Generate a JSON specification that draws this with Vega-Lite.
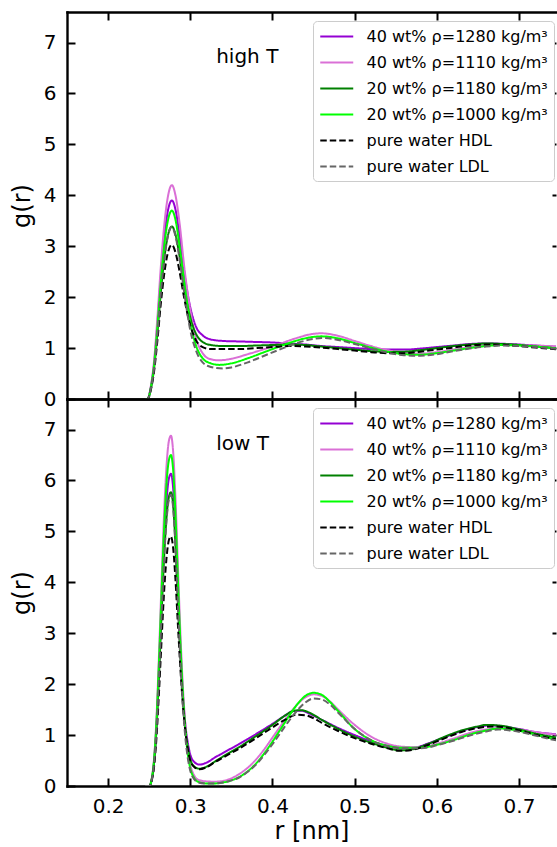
{
  "$schema": "https://vega.github.io/schema/vega-lite/v6.json",
  "padding": {"left": 10, "top": 11, "right": 0, "bottom": 0},
  "bounds": "flush",
  "spacing": 0,
  "resolve": {"legend": {"color": "independent", "strokeDash": "independent"}},
  "config": {
    "view": {"stroke": null},
    "font": "DejaVu Sans",
    "axis": {"grid": false, "domainColor": "black", "domainWidth": 2.4, "domainCap": "square", "tickColor": "black", "tickWidth": 2, "tickSize": -8, "labelColor": "black", "labelFontSize": 20, "labelFont": "DejaVu Sans", "titleFont": "DejaVu Sans", "titleFontSize": 24, "titleFontWeight": "normal", "titleColor": "black"}
  },
  "datasets": {
    "high": [
      {"series":"v1280","r":0.245,"g":0},{"series":"v1280","r":0.248,"g":0},{"series":"v1280","r":0.252,"g":0.23},{"series":"v1280","r":0.256,"g":0.70},{"series":"v1280","r":0.260,"g":1.48},{"series":"v1280","r":0.264,"g":2.38},{"series":"v1280","r":0.268,"g":3.12},{"series":"v1280","r":0.272,"g":3.63},{"series":"v1280","r":0.2776,"g":3.9},{"series":"v1280","r":0.282,"g":3.72},{"series":"v1280","r":0.287,"g":3.2},{"series":"v1280","r":0.293,"g":2.45},{"series":"v1280","r":0.300,"g":1.8},{"series":"v1280","r":0.307,"g":1.42},{"series":"v1280","r":0.315,"g":1.25},{"series":"v1280","r":0.325,"g":1.17},{"series":"v1280","r":0.34,"g":1.14},{"series":"v1280","r":0.36,"g":1.13},{"series":"v1280","r":0.38,"g":1.12},{"series":"v1280","r":0.40,"g":1.11},{"series":"v1280","r":0.42,"g":1.09},{"series":"v1280","r":0.44,"g":1.07},{"series":"v1280","r":0.46,"g":1.04},{"series":"v1280","r":0.48,"g":1.02},{"series":"v1280","r":0.50,"g":1.0},{"series":"v1280","r":0.52,"g":0.98},{"series":"v1280","r":0.54,"g":0.97},{"series":"v1280","r":0.56,"g":0.97},{"series":"v1280","r":0.58,"g":0.99},{"series":"v1280","r":0.60,"g":1.02},{"series":"v1280","r":0.62,"g":1.05},{"series":"v1280","r":0.64,"g":1.08},{"series":"v1280","r":0.66,"g":1.09},{"series":"v1280","r":0.68,"g":1.085},{"series":"v1280","r":0.70,"g":1.07},{"series":"v1280","r":0.72,"g":1.05},{"series":"v1280","r":0.75,"g":1.02},

      {"series":"v1110","r":0.245,"g":0},{"series":"v1110","r":0.248,"g":0},{"series":"v1110","r":0.252,"g":0.25},{"series":"v1110","r":0.256,"g":0.76},{"series":"v1110","r":0.260,"g":1.6},{"series":"v1110","r":0.264,"g":2.56},{"series":"v1110","r":0.268,"g":3.36},{"series":"v1110","r":0.272,"g":3.9},{"series":"v1110","r":0.2776,"g":4.2},{"series":"v1110","r":0.282,"g":4.0},{"series":"v1110","r":0.287,"g":3.45},{"series":"v1110","r":0.293,"g":2.55},{"series":"v1110","r":0.300,"g":1.75},{"series":"v1110","r":0.307,"g":1.2},{"series":"v1110","r":0.315,"g":0.9},{"series":"v1110","r":0.325,"g":0.78},{"series":"v1110","r":0.335,"g":0.76},{"series":"v1110","r":0.35,"g":0.79},{"series":"v1110","r":0.37,"g":0.88},{"series":"v1110","r":0.39,"g":0.98},{"series":"v1110","r":0.41,"g":1.09},{"series":"v1110","r":0.43,"g":1.2},{"series":"v1110","r":0.45,"g":1.28},{"series":"v1110","r":0.46,"g":1.29},{"series":"v1110","r":0.48,"g":1.24},{"series":"v1110","r":0.50,"g":1.14},{"series":"v1110","r":0.52,"g":1.04},{"series":"v1110","r":0.54,"g":0.96},{"series":"v1110","r":0.56,"g":0.91},{"series":"v1110","r":0.58,"g":0.89},{"series":"v1110","r":0.60,"g":0.92},{"series":"v1110","r":0.62,"g":0.97},{"series":"v1110","r":0.64,"g":1.02},{"series":"v1110","r":0.66,"g":1.06},{"series":"v1110","r":0.68,"g":1.07},{"series":"v1110","r":0.70,"g":1.06},{"series":"v1110","r":0.72,"g":1.05},{"series":"v1110","r":0.75,"g":1.03},

      {"series":"g1180","r":0.245,"g":0},{"series":"g1180","r":0.248,"g":0},{"series":"g1180","r":0.252,"g":0.2},{"series":"g1180","r":0.256,"g":0.61},{"series":"g1180","r":0.260,"g":1.29},{"series":"g1180","r":0.264,"g":2.07},{"series":"g1180","r":0.268,"g":2.71},{"series":"g1180","r":0.272,"g":3.15},{"series":"g1180","r":0.2776,"g":3.39},{"series":"g1180","r":0.282,"g":3.23},{"series":"g1180","r":0.287,"g":2.8},{"series":"g1180","r":0.293,"g":2.15},{"series":"g1180","r":0.300,"g":1.6},{"series":"g1180","r":0.307,"g":1.28},{"series":"g1180","r":0.315,"g":1.12},{"series":"g1180","r":0.325,"g":1.06},{"series":"g1180","r":0.34,"g":1.04},{"series":"g1180","r":0.36,"g":1.04},{"series":"g1180","r":0.38,"g":1.05},{"series":"g1180","r":0.40,"g":1.06},{"series":"g1180","r":0.42,"g":1.07},{"series":"g1180","r":0.44,"g":1.06},{"series":"g1180","r":0.46,"g":1.03},{"series":"g1180","r":0.48,"g":1.0},{"series":"g1180","r":0.50,"g":0.97},{"series":"g1180","r":0.52,"g":0.94},{"series":"g1180","r":0.54,"g":0.925},{"series":"g1180","r":0.56,"g":0.93},{"series":"g1180","r":0.58,"g":0.96},{"series":"g1180","r":0.60,"g":1.0},{"series":"g1180","r":0.62,"g":1.04},{"series":"g1180","r":0.64,"g":1.07},{"series":"g1180","r":0.66,"g":1.09},{"series":"g1180","r":0.68,"g":1.08},{"series":"g1180","r":0.70,"g":1.06},{"series":"g1180","r":0.72,"g":1.03},{"series":"g1180","r":0.75,"g":0.99},

      {"series":"g1000","r":0.245,"g":0},{"series":"g1000","r":0.248,"g":0},{"series":"g1000","r":0.252,"g":0.22},{"series":"g1000","r":0.256,"g":0.67},{"series":"g1000","r":0.260,"g":1.41},{"series":"g1000","r":0.264,"g":2.26},{"series":"g1000","r":0.268,"g":2.96},{"series":"g1000","r":0.272,"g":3.44},{"series":"g1000","r":0.2776,"g":3.7},{"series":"g1000","r":0.282,"g":3.52},{"series":"g1000","r":0.287,"g":3.0},{"series":"g1000","r":0.293,"g":2.25},{"series":"g1000","r":0.300,"g":1.5},{"series":"g1000","r":0.307,"g":1.05},{"series":"g1000","r":0.315,"g":0.8},{"series":"g1000","r":0.325,"g":0.7},{"series":"g1000","r":0.335,"g":0.67},{"series":"g1000","r":0.35,"g":0.7},{"series":"g1000","r":0.37,"g":0.8},{"series":"g1000","r":0.39,"g":0.92},{"series":"g1000","r":0.41,"g":1.04},{"series":"g1000","r":0.43,"g":1.15},{"series":"g1000","r":0.45,"g":1.22},{"series":"g1000","r":0.46,"g":1.23},{"series":"g1000","r":0.48,"g":1.19},{"series":"g1000","r":0.50,"g":1.1},{"series":"g1000","r":0.52,"g":1.01},{"series":"g1000","r":0.54,"g":0.93},{"series":"g1000","r":0.56,"g":0.88},{"series":"g1000","r":0.58,"g":0.87},{"series":"g1000","r":0.60,"g":0.9},{"series":"g1000","r":0.62,"g":0.95},{"series":"g1000","r":0.64,"g":1.0},{"series":"g1000","r":0.66,"g":1.04},{"series":"g1000","r":0.68,"g":1.06},{"series":"g1000","r":0.70,"g":1.05},{"series":"g1000","r":0.72,"g":1.03},{"series":"g1000","r":0.75,"g":0.99},

      {"series":"HDL","r":0.245,"g":0},{"series":"HDL","r":0.248,"g":0},{"series":"HDL","r":0.252,"g":0.18},{"series":"HDL","r":0.256,"g":0.55},{"series":"HDL","r":0.260,"g":1.15},{"series":"HDL","r":0.264,"g":1.85},{"series":"HDL","r":0.268,"g":2.42},{"series":"HDL","r":0.272,"g":2.82},{"series":"HDL","r":0.2776,"g":3.03},{"series":"HDL","r":0.282,"g":2.88},{"series":"HDL","r":0.287,"g":2.5},{"series":"HDL","r":0.293,"g":1.95},{"series":"HDL","r":0.300,"g":1.45},{"series":"HDL","r":0.307,"g":1.15},{"series":"HDL","r":0.315,"g":1.02},{"series":"HDL","r":0.325,"g":0.98},{"series":"HDL","r":0.34,"g":0.98},{"series":"HDL","r":0.36,"g":0.98},{"series":"HDL","r":0.38,"g":1.0},{"series":"HDL","r":0.40,"g":1.02},{"series":"HDL","r":0.42,"g":1.04},{"series":"HDL","r":0.44,"g":1.03},{"series":"HDL","r":0.46,"g":1.01},{"series":"HDL","r":0.48,"g":0.98},{"series":"HDL","r":0.50,"g":0.95},{"series":"HDL","r":0.52,"g":0.92},{"series":"HDL","r":0.54,"g":0.9},{"series":"HDL","r":0.56,"g":0.9},{"series":"HDL","r":0.58,"g":0.93},{"series":"HDL","r":0.60,"g":0.97},{"series":"HDL","r":0.62,"g":1.01},{"series":"HDL","r":0.64,"g":1.05},{"series":"HDL","r":0.66,"g":1.07},{"series":"HDL","r":0.68,"g":1.065},{"series":"HDL","r":0.70,"g":1.04},{"series":"HDL","r":0.72,"g":1.01},{"series":"HDL","r":0.75,"g":0.97},

      {"series":"LDL","r":0.245,"g":0},{"series":"LDL","r":0.248,"g":0},{"series":"LDL","r":0.252,"g":0.2},{"series":"LDL","r":0.256,"g":0.61},{"series":"LDL","r":0.260,"g":1.28},{"series":"LDL","r":0.264,"g":2.06},{"series":"LDL","r":0.268,"g":2.7},{"series":"LDL","r":0.272,"g":3.14},{"series":"LDL","r":0.2776,"g":3.38},{"series":"LDL","r":0.282,"g":3.2},{"series":"LDL","r":0.287,"g":2.75},{"series":"LDL","r":0.293,"g":2.05},{"series":"LDL","r":0.300,"g":1.35},{"series":"LDL","r":0.307,"g":0.95},{"series":"LDL","r":0.315,"g":0.72},{"series":"LDL","r":0.325,"g":0.63},{"series":"LDL","r":0.34,"g":0.6},{"series":"LDL","r":0.35,"g":0.62},{"series":"LDL","r":0.37,"g":0.72},{"series":"LDL","r":0.39,"g":0.85},{"series":"LDL","r":0.41,"g":0.98},{"series":"LDL","r":0.43,"g":1.1},{"series":"LDL","r":0.45,"g":1.18},{"series":"LDL","r":0.46,"g":1.2},{"series":"LDL","r":0.48,"g":1.16},{"series":"LDL","r":0.50,"g":1.08},{"series":"LDL","r":0.52,"g":0.99},{"series":"LDL","r":0.54,"g":0.91},{"series":"LDL","r":0.56,"g":0.86},{"series":"LDL","r":0.58,"g":0.85},{"series":"LDL","r":0.60,"g":0.88},{"series":"LDL","r":0.62,"g":0.94},{"series":"LDL","r":0.64,"g":0.99},{"series":"LDL","r":0.66,"g":1.03},{"series":"LDL","r":0.68,"g":1.05},{"series":"LDL","r":0.70,"g":1.04},{"series":"LDL","r":0.72,"g":1.02},{"series":"LDL","r":0.75,"g":0.98}
    ],
    "low": [
      {"series":"v1280","r":0.245,"g":0},{"series":"v1280","r":0.25,"g":0},{"series":"v1280","r":0.253,"g":0.12},{"series":"v1280","r":0.256,"g":0.49},{"series":"v1280","r":0.259,"g":1.23},{"series":"v1280","r":0.262,"g":2.33},{"series":"v1280","r":0.265,"g":3.56},{"series":"v1280","r":0.268,"g":4.72},{"series":"v1280","r":0.271,"g":5.58},{"series":"v1280","r":0.274,"g":6.04},{"series":"v1280","r":0.2765,"g":6.13},{"series":"v1280","r":0.279,"g":5.88},{"series":"v1280","r":0.282,"g":5.0},{"series":"v1280","r":0.285,"g":3.8},{"series":"v1280","r":0.288,"g":2.7},{"series":"v1280","r":0.291,"g":1.8},{"series":"v1280","r":0.294,"g":1.2},{"series":"v1280","r":0.297,"g":0.85},{"series":"v1280","r":0.30,"g":0.62},{"series":"v1280","r":0.305,"g":0.47},{"series":"v1280","r":0.311,"g":0.42},{"series":"v1280","r":0.32,"g":0.46},{"series":"v1280","r":0.33,"g":0.56},{"series":"v1280","r":0.34,"g":0.65},{"series":"v1280","r":0.36,"g":0.83},{"series":"v1280","r":0.38,"g":1.02},{"series":"v1280","r":0.40,"g":1.22},{"series":"v1280","r":0.415,"g":1.38},{"series":"v1280","r":0.425,"g":1.47},{"series":"v1280","r":0.435,"g":1.48},{"series":"v1280","r":0.445,"g":1.42},{"series":"v1280","r":0.46,"g":1.3},{"series":"v1280","r":0.48,"g":1.14},{"series":"v1280","r":0.50,"g":1.0},{"series":"v1280","r":0.52,"g":0.88},{"series":"v1280","r":0.54,"g":0.79},{"series":"v1280","r":0.56,"g":0.74},{"series":"v1280","r":0.575,"g":0.76},{"series":"v1280","r":0.59,"g":0.84},{"series":"v1280","r":0.61,"g":0.96},{"series":"v1280","r":0.63,"g":1.08},{"series":"v1280","r":0.65,"g":1.16},{"series":"v1280","r":0.665,"g":1.19},{"series":"v1280","r":0.68,"g":1.17},{"series":"v1280","r":0.70,"g":1.12},{"series":"v1280","r":0.72,"g":1.06},{"series":"v1280","r":0.75,"g":1.01},

      {"series":"v1110","r":0.245,"g":0},{"series":"v1110","r":0.25,"g":0},{"series":"v1110","r":0.253,"g":0.14},{"series":"v1110","r":0.256,"g":0.55},{"series":"v1110","r":0.259,"g":1.38},{"series":"v1110","r":0.262,"g":2.61},{"series":"v1110","r":0.265,"g":3.99},{"series":"v1110","r":0.268,"g":5.3},{"series":"v1110","r":0.271,"g":6.26},{"series":"v1110","r":0.274,"g":6.78},{"series":"v1110","r":0.2765,"g":6.88},{"series":"v1110","r":0.279,"g":6.6},{"series":"v1110","r":0.282,"g":5.65},{"series":"v1110","r":0.285,"g":4.3},{"series":"v1110","r":0.288,"g":3.0},{"series":"v1110","r":0.291,"g":1.95},{"series":"v1110","r":0.294,"g":1.2},{"series":"v1110","r":0.297,"g":0.7},{"series":"v1110","r":0.30,"g":0.42},{"series":"v1110","r":0.305,"g":0.2},{"series":"v1110","r":0.31,"g":0.12},{"series":"v1110","r":0.32,"g":0.09},{"series":"v1110","r":0.33,"g":0.085},{"series":"v1110","r":0.34,"g":0.1},{"series":"v1110","r":0.35,"g":0.15},{"series":"v1110","r":0.36,"g":0.24},{"series":"v1110","r":0.37,"g":0.36},{"series":"v1110","r":0.38,"g":0.52},{"series":"v1110","r":0.39,"g":0.72},{"series":"v1110","r":0.40,"g":0.95},{"series":"v1110","r":0.41,"g":1.18},{"series":"v1110","r":0.42,"g":1.4},{"series":"v1110","r":0.43,"g":1.6},{"series":"v1110","r":0.44,"g":1.74},{"series":"v1110","r":0.45,"g":1.8},{"series":"v1110","r":0.46,"g":1.77},{"series":"v1110","r":0.47,"g":1.66},{"series":"v1110","r":0.48,"g":1.5},{"series":"v1110","r":0.50,"g":1.2},{"series":"v1110","r":0.52,"g":0.97},{"series":"v1110","r":0.54,"g":0.83},{"series":"v1110","r":0.56,"g":0.77},{"series":"v1110","r":0.58,"g":0.76},{"series":"v1110","r":0.60,"g":0.83},{"series":"v1110","r":0.62,"g":0.93},{"series":"v1110","r":0.64,"g":1.04},{"series":"v1110","r":0.66,"g":1.11},{"series":"v1110","r":0.68,"g":1.14},{"series":"v1110","r":0.70,"g":1.11},{"series":"v1110","r":0.72,"g":1.06},{"series":"v1110","r":0.75,"g":1.0},

      {"series":"g1180","r":0.245,"g":0},{"series":"g1180","r":0.25,"g":0},{"series":"g1180","r":0.253,"g":0.12},{"series":"g1180","r":0.256,"g":0.46},{"series":"g1180","r":0.259,"g":1.15},{"series":"g1180","r":0.262,"g":2.19},{"series":"g1180","r":0.265,"g":3.35},{"series":"g1180","r":0.268,"g":4.44},{"series":"g1180","r":0.271,"g":5.25},{"series":"g1180","r":0.274,"g":5.68},{"series":"g1180","r":0.2765,"g":5.77},{"series":"g1180","r":0.279,"g":5.54},{"series":"g1180","r":0.282,"g":4.73},{"series":"g1180","r":0.285,"g":3.6},{"series":"g1180","r":0.288,"g":2.55},{"series":"g1180","r":0.291,"g":1.7},{"series":"g1180","r":0.294,"g":1.1},{"series":"g1180","r":0.297,"g":0.75},{"series":"g1180","r":0.30,"g":0.52},{"series":"g1180","r":0.305,"g":0.38},{"series":"g1180","r":0.311,"g":0.34},{"series":"g1180","r":0.32,"g":0.38},{"series":"g1180","r":0.33,"g":0.48},{"series":"g1180","r":0.34,"g":0.58},{"series":"g1180","r":0.36,"g":0.77},{"series":"g1180","r":0.38,"g":0.98},{"series":"g1180","r":0.40,"g":1.2},{"series":"g1180","r":0.415,"g":1.38},{"series":"g1180","r":0.425,"g":1.47},{"series":"g1180","r":0.435,"g":1.49},{"series":"g1180","r":0.445,"g":1.44},{"series":"g1180","r":0.46,"g":1.3},{"series":"g1180","r":0.48,"g":1.12},{"series":"g1180","r":0.50,"g":0.97},{"series":"g1180","r":0.52,"g":0.85},{"series":"g1180","r":0.54,"g":0.75},{"series":"g1180","r":0.555,"g":0.7},{"series":"g1180","r":0.57,"g":0.72},{"series":"g1180","r":0.59,"g":0.83},{"series":"g1180","r":0.61,"g":0.97},{"series":"g1180","r":0.63,"g":1.09},{"series":"g1180","r":0.65,"g":1.17},{"series":"g1180","r":0.66,"g":1.2},{"series":"g1180","r":0.68,"g":1.18},{"series":"g1180","r":0.70,"g":1.11},{"series":"g1180","r":0.72,"g":1.03},{"series":"g1180","r":0.75,"g":0.94},

      {"series":"g1000","r":0.245,"g":0},{"series":"g1000","r":0.25,"g":0},{"series":"g1000","r":0.253,"g":0.13},{"series":"g1000","r":0.256,"g":0.52},{"series":"g1000","r":0.259,"g":1.3},{"series":"g1000","r":0.262,"g":2.47},{"series":"g1000","r":0.265,"g":3.77},{"series":"g1000","r":0.268,"g":5.0},{"series":"g1000","r":0.271,"g":5.92},{"series":"g1000","r":0.274,"g":6.4},{"series":"g1000","r":0.2765,"g":6.5},{"series":"g1000","r":0.279,"g":6.24},{"series":"g1000","r":0.282,"g":5.33},{"series":"g1000","r":0.285,"g":4.03},{"series":"g1000","r":0.288,"g":2.8},{"series":"g1000","r":0.291,"g":1.8},{"series":"g1000","r":0.294,"g":1.1},{"series":"g1000","r":0.297,"g":0.62},{"series":"g1000","r":0.30,"g":0.35},{"series":"g1000","r":0.305,"g":0.15},{"series":"g1000","r":0.31,"g":0.08},{"series":"g1000","r":0.32,"g":0.05},{"series":"g1000","r":0.33,"g":0.05},{"series":"g1000","r":0.34,"g":0.07},{"series":"g1000","r":0.35,"g":0.11},{"series":"g1000","r":0.36,"g":0.18},{"series":"g1000","r":0.37,"g":0.29},{"series":"g1000","r":0.38,"g":0.44},{"series":"g1000","r":0.39,"g":0.64},{"series":"g1000","r":0.40,"g":0.87},{"series":"g1000","r":0.41,"g":1.12},{"series":"g1000","r":0.42,"g":1.37},{"series":"g1000","r":0.43,"g":1.6},{"series":"g1000","r":0.44,"g":1.77},{"series":"g1000","r":0.45,"g":1.83},{"series":"g1000","r":0.46,"g":1.79},{"series":"g1000","r":0.47,"g":1.65},{"series":"g1000","r":0.48,"g":1.47},{"series":"g1000","r":0.50,"g":1.12},{"series":"g1000","r":0.52,"g":0.9},{"series":"g1000","r":0.54,"g":0.79},{"series":"g1000","r":0.56,"g":0.75},{"series":"g1000","r":0.58,"g":0.75},{"series":"g1000","r":0.60,"g":0.81},{"series":"g1000","r":0.62,"g":0.9},{"series":"g1000","r":0.64,"g":1.01},{"series":"g1000","r":0.66,"g":1.09},{"series":"g1000","r":0.675,"g":1.13},{"series":"g1000","r":0.69,"g":1.11},{"series":"g1000","r":0.71,"g":1.05},{"series":"g1000","r":0.73,"g":0.97},{"series":"g1000","r":0.75,"g":0.9},

      {"series":"HDL","r":0.245,"g":0},{"series":"HDL","r":0.25,"g":0},{"series":"HDL","r":0.253,"g":0.1},{"series":"HDL","r":0.256,"g":0.39},{"series":"HDL","r":0.259,"g":0.98},{"series":"HDL","r":0.262,"g":1.86},{"series":"HDL","r":0.265,"g":2.84},{"series":"HDL","r":0.268,"g":3.77},{"series":"HDL","r":0.271,"g":4.46},{"series":"HDL","r":0.274,"g":4.83},{"series":"HDL","r":0.2765,"g":4.9},{"series":"HDL","r":0.279,"g":4.7},{"series":"HDL","r":0.282,"g":4.05},{"series":"HDL","r":0.285,"g":3.15},{"series":"HDL","r":0.288,"g":2.3},{"series":"HDL","r":0.291,"g":1.6},{"series":"HDL","r":0.294,"g":1.08},{"series":"HDL","r":0.297,"g":0.72},{"series":"HDL","r":0.30,"g":0.5},{"series":"HDL","r":0.305,"g":0.37},{"series":"HDL","r":0.311,"g":0.33},{"series":"HDL","r":0.32,"g":0.37},{"series":"HDL","r":0.33,"g":0.47},{"series":"HDL","r":0.34,"g":0.56},{"series":"HDL","r":0.36,"g":0.74},{"series":"HDL","r":0.38,"g":0.94},{"series":"HDL","r":0.40,"g":1.15},{"series":"HDL","r":0.415,"g":1.3},{"series":"HDL","r":0.43,"g":1.4},{"series":"HDL","r":0.44,"g":1.39},{"series":"HDL","r":0.45,"g":1.33},{"series":"HDL","r":0.46,"g":1.24},{"series":"HDL","r":0.48,"g":1.08},{"series":"HDL","r":0.50,"g":0.94},{"series":"HDL","r":0.52,"g":0.83},{"series":"HDL","r":0.54,"g":0.74},{"series":"HDL","r":0.555,"g":0.69},{"series":"HDL","r":0.57,"g":0.71},{"series":"HDL","r":0.59,"g":0.81},{"series":"HDL","r":0.61,"g":0.94},{"series":"HDL","r":0.63,"g":1.06},{"series":"HDL","r":0.65,"g":1.14},{"series":"HDL","r":0.67,"g":1.17},{"series":"HDL","r":0.69,"g":1.13},{"series":"HDL","r":0.71,"g":1.05},{"series":"HDL","r":0.73,"g":0.97},{"series":"HDL","r":0.75,"g":0.9},

      {"series":"LDL","r":0.245,"g":0},{"series":"LDL","r":0.25,"g":0},{"series":"LDL","r":0.253,"g":0.11},{"series":"LDL","r":0.256,"g":0.46},{"series":"LDL","r":0.259,"g":1.14},{"series":"LDL","r":0.262,"g":2.17},{"series":"LDL","r":0.265,"g":3.32},{"series":"LDL","r":0.268,"g":4.4},{"series":"LDL","r":0.271,"g":5.2},{"series":"LDL","r":0.274,"g":5.63},{"series":"LDL","r":0.2765,"g":5.72},{"series":"LDL","r":0.279,"g":5.49},{"series":"LDL","r":0.282,"g":4.7},{"series":"LDL","r":0.285,"g":3.55},{"series":"LDL","r":0.288,"g":2.45},{"series":"LDL","r":0.291,"g":1.58},{"series":"LDL","r":0.294,"g":0.95},{"series":"LDL","r":0.297,"g":0.55},{"series":"LDL","r":0.30,"g":0.3},{"series":"LDL","r":0.305,"g":0.13},{"series":"LDL","r":0.31,"g":0.07},{"series":"LDL","r":0.32,"g":0.05},{"series":"LDL","r":0.33,"g":0.05},{"series":"LDL","r":0.34,"g":0.07},{"series":"LDL","r":0.35,"g":0.11},{"series":"LDL","r":0.36,"g":0.17},{"series":"LDL","r":0.37,"g":0.28},{"series":"LDL","r":0.38,"g":0.42},{"series":"LDL","r":0.39,"g":0.61},{"series":"LDL","r":0.40,"g":0.82},{"series":"LDL","r":0.41,"g":1.05},{"series":"LDL","r":0.42,"g":1.28},{"series":"LDL","r":0.43,"g":1.48},{"series":"LDL","r":0.44,"g":1.64},{"series":"LDL","r":0.45,"g":1.72},{"series":"LDL","r":0.46,"g":1.7},{"series":"LDL","r":0.47,"g":1.6},{"series":"LDL","r":0.48,"g":1.44},{"series":"LDL","r":0.50,"g":1.12},{"series":"LDL","r":0.52,"g":0.9},{"series":"LDL","r":0.54,"g":0.78},{"series":"LDL","r":0.56,"g":0.74},{"series":"LDL","r":0.58,"g":0.74},{"series":"LDL","r":0.60,"g":0.8},{"series":"LDL","r":0.62,"g":0.89},{"series":"LDL","r":0.64,"g":0.99},{"series":"LDL","r":0.66,"g":1.07},{"series":"LDL","r":0.675,"g":1.11},{"series":"LDL","r":0.69,"g":1.09},{"series":"LDL","r":0.71,"g":1.03},{"series":"LDL","r":0.73,"g":0.95},{"series":"LDL","r":0.75,"g":0.88}
    ]
  },
  "vconcat": [
    {
      "width": 489, "height": 387,
      "layer": [
        {
          "data": {"name": "high"},
          "mark": {"type": "line", "interpolate": "monotone", "clip": true, "strokeWidth": 2},
          "encoding": {
            "x": {"field": "r", "type": "quantitative", "scale": {"domain": [0.15, 0.745], "nice": false, "zero": false}, "axis": {"orient": "bottom", "values": [0.2, 0.3, 0.4, 0.5, 0.6, 0.7], "labels": false, "title": null}},
            "y": {"field": "g", "type": "quantitative", "scale": {"domain": [0, 7.6], "nice": false}, "axis": {"orient": "left", "values": [0, 1, 2, 3, 4, 5, 6, 7], "title": "g(r)", "labelPadding": 19, "titlePadding": 9}},
            "color": {"field": "series", "type": "nominal", "scale": {"domain": ["v1280", "v1110", "g1180", "g1000", "HDL", "LDL"], "range": ["#9400d3", "#da70d6", "#008000", "#00ff00", "#000000", "#666666"]},
              "legend": {"orient": "none", "legendX": 246, "legendY": 9, "title": null, "fillColor": "white", "strokeColor": "#cccccc", "cornerRadius": 4, "padding": 6, "labelFontSize": 16, "labelFont": "DejaVu Sans", "labelColor": "black", "symbolType": "M-1,0H3", "symbolSize": 272, "symbolStrokeWidth": 2, "labelOffset": 28.5, "rowPadding": 8, "labelLimit": 300,
                "labelExpr": "{'v1280':'40 wt% ρ=1280 kg/m³','v1110':'40 wt% ρ=1110 kg/m³','g1180':'20 wt% ρ=1180 kg/m³','g1000':'20 wt% ρ=1000 kg/m³','HDL':'pure water HDL','LDL':'pure water LDL'}[datum.label]"}},
            "strokeDash": {"field": "series", "type": "nominal", "scale": {"domain": ["v1280", "v1110", "g1180", "g1000", "HDL", "LDL"], "range": [[1, 0], [1, 0], [1, 0], [1, 0], [6.5, 3], [6.5, 3]]},
              "legend": {"orient": "none", "legendX": 246, "legendY": 9, "title": null, "fillColor": "white", "strokeColor": "#cccccc", "cornerRadius": 4, "padding": 6, "labelFontSize": 16, "labelFont": "DejaVu Sans", "labelColor": "black", "symbolType": "M-1,0H3", "symbolSize": 272, "symbolStrokeWidth": 2, "labelOffset": 28.5, "rowPadding": 8, "labelLimit": 300,
                "labelExpr": "{'v1280':'40 wt% ρ=1280 kg/m³','v1110':'40 wt% ρ=1110 kg/m³','g1180':'20 wt% ρ=1180 kg/m³','g1000':'20 wt% ρ=1000 kg/m³','HDL':'pure water HDL','LDL':'pure water LDL'}[datum.label]"}}
          }
        },
        {
          "data": {"values": [{"label": "high T", "r": 0.3315, "g": 6.72}]},
          "mark": {"type": "text", "align": "left", "baseline": "middle", "fontSize": 20, "font": "DejaVu Sans", "color": "black"},
          "encoding": {
            "x": {"field": "r", "type": "quantitative", "scale": {"domain": [0.15, 0.745], "nice": false, "zero": false}, "axis": {"orient": "top", "values": [0.2, 0.3, 0.4, 0.5, 0.6, 0.7], "labels": false, "title": null}},
            "y": {"field": "g", "type": "quantitative", "scale": {"domain": [0, 7.6], "nice": false}, "axis": {"orient": "right", "values": [0, 1, 2, 3, 4, 5, 6, 7], "labels": false, "domain": false, "tickSize": -4, "title": null}},
            "text": {"field": "label"}
          }
        }
      ]
    },
    {
      "width": 489, "height": 387,
      "layer": [
        {
          "data": {"name": "low"},
          "mark": {"type": "line", "interpolate": "monotone", "clip": true, "strokeWidth": 2},
          "encoding": {
            "x": {"field": "r", "type": "quantitative", "scale": {"domain": [0.15, 0.745], "nice": false, "zero": false}, "axis": {"orient": "bottom", "values": [0.2, 0.3, 0.4, 0.5, 0.6, 0.7], "title": "r [nm]", "labelPadding": 18, "titlePadding": 3}},
            "y": {"field": "g", "type": "quantitative", "scale": {"domain": [0, 7.6], "nice": false}, "axis": {"orient": "left", "values": [0, 1, 2, 3, 4, 5, 6, 7], "title": "g(r)", "labelPadding": 19, "titlePadding": 9}},
            "color": {"field": "series", "type": "nominal", "scale": {"domain": ["v1280", "v1110", "g1180", "g1000", "HDL", "LDL"], "range": ["#9400d3", "#da70d6", "#008000", "#00ff00", "#000000", "#666666"]},
              "legend": {"orient": "none", "legendX": 246, "legendY": 9, "title": null, "fillColor": "white", "strokeColor": "#cccccc", "cornerRadius": 4, "padding": 6, "labelFontSize": 16, "labelFont": "DejaVu Sans", "labelColor": "black", "symbolType": "M-1,0H3", "symbolSize": 272, "symbolStrokeWidth": 2, "labelOffset": 28.5, "rowPadding": 8, "labelLimit": 300,
                "labelExpr": "{'v1280':'40 wt% ρ=1280 kg/m³','v1110':'40 wt% ρ=1110 kg/m³','g1180':'20 wt% ρ=1180 kg/m³','g1000':'20 wt% ρ=1000 kg/m³','HDL':'pure water HDL','LDL':'pure water LDL'}[datum.label]"}},
            "strokeDash": {"field": "series", "type": "nominal", "scale": {"domain": ["v1280", "v1110", "g1180", "g1000", "HDL", "LDL"], "range": [[1, 0], [1, 0], [1, 0], [1, 0], [6.5, 3], [6.5, 3]]},
              "legend": {"orient": "none", "legendX": 246, "legendY": 9, "title": null, "fillColor": "white", "strokeColor": "#cccccc", "cornerRadius": 4, "padding": 6, "labelFontSize": 16, "labelFont": "DejaVu Sans", "labelColor": "black", "symbolType": "M-1,0H3", "symbolSize": 272, "symbolStrokeWidth": 2, "labelOffset": 28.5, "rowPadding": 8, "labelLimit": 300,
                "labelExpr": "{'v1280':'40 wt% ρ=1280 kg/m³','v1110':'40 wt% ρ=1110 kg/m³','g1180':'20 wt% ρ=1180 kg/m³','g1000':'20 wt% ρ=1000 kg/m³','HDL':'pure water HDL','LDL':'pure water LDL'}[datum.label]"}}
          }
        },
        {
          "data": {"values": [{"label": "low T", "r": 0.3315, "g": 6.72}]},
          "mark": {"type": "text", "align": "left", "baseline": "middle", "fontSize": 20, "font": "DejaVu Sans", "color": "black"},
          "encoding": {
            "x": {"field": "r", "type": "quantitative", "scale": {"domain": [0.15, 0.745], "nice": false, "zero": false}, "axis": {"orient": "top", "values": [0.2, 0.3, 0.4, 0.5, 0.6, 0.7], "labels": false, "title": null}},
            "y": {"field": "g", "type": "quantitative", "scale": {"domain": [0, 7.6], "nice": false}, "axis": {"orient": "right", "values": [0, 1, 2, 3, 4, 5, 6, 7], "labels": false, "domain": false, "tickSize": -4, "title": null}},
            "text": {"field": "label"}
          }
        }
      ]
    }
  ]
}
